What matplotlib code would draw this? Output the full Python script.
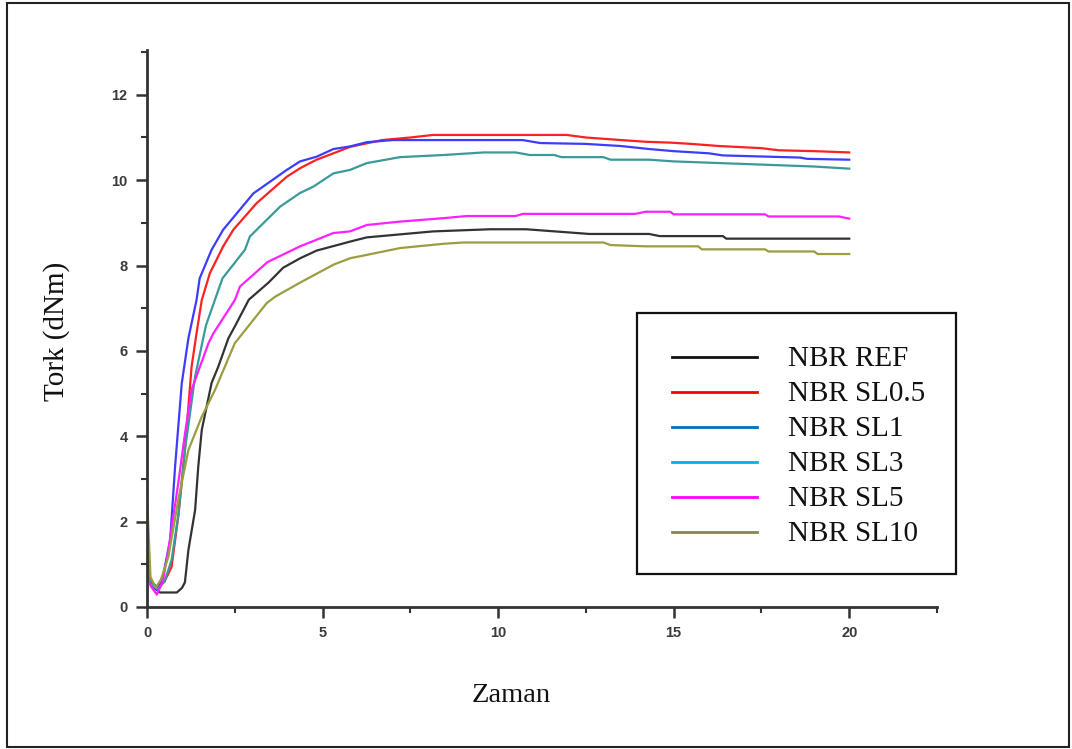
import matplotlib
matplotlib.use("Agg")
import matplotlib.pyplot as plt
from matplotlib.patches import Rectangle
from matplotlib.lines import Line2D
from matplotlib.ticker import MultipleLocator, FixedLocator

# ---------------- data ----------------
t_ref = [0, 0.08, 0.2, 0.37, 0.85, 1.0, 1.08, 1.18, 1.37, 1.46, 1.56, 1.84, 2.03, 2.32, 2.5, 2.9,
         3.46, 3.88, 4.36, 4.83, 5.78, 6.26, 8.15, 9.77, 10.8, 12.6, 14.3, 14.6, 16.4, 16.5, 20.0]
v_ref = [1.5, 0.7, 0.45, 0.34, 0.34, 0.45, 0.58, 1.34, 2.27, 3.29, 4.15, 5.25, 5.63, 6.3, 6.57, 7.2,
         7.6, 7.95, 8.17, 8.35, 8.56, 8.66, 8.8, 8.85, 8.85, 8.74, 8.74, 8.69, 8.69, 8.63, 8.63]

t_sl05 = [0, 0.1, 0.33, 0.5, 0.70, 0.89, 1.08, 1.27, 1.41, 1.56, 1.79, 2.17, 2.46, 3.12, 3.98, 4.36,
          4.83, 5.31, 5.78, 6.7, 7.5, 8.15, 11.95, 12.5, 13.5, 14.2, 14.9, 15.5, 16.3, 17.5, 18.0, 19.0, 20.0]
v_sl05 = [0.9, 0.6, 0.45, 0.6, 0.94, 2.12, 3.68, 5.63, 6.41, 7.19, 7.82, 8.45, 8.84, 9.46, 10.08, 10.28,
          10.48, 10.63, 10.78, 10.94, 11.0, 11.06, 11.06, 11.0, 10.94, 10.9, 10.88, 10.85, 10.8, 10.75, 10.7, 10.68, 10.65]

t_sl1 = [0, 0.1, 0.28, 0.45, 0.66, 0.80, 0.99, 1.18, 1.41, 1.5, 1.84, 2.17, 3.03, 3.98, 4.36, 4.83,
         5.31, 5.78, 6.26, 7.0, 10.7, 11.2, 12.5, 13.5, 14.3, 15.0, 16.0, 16.4, 18.6, 18.8, 20.0]
v_sl1 = [0.8, 0.55, 0.40, 0.7, 1.57, 3.29, 5.24, 6.3, 7.19, 7.7, 8.37, 8.84, 9.69, 10.24, 10.44, 10.55,
         10.73, 10.79, 10.89, 10.94, 10.94, 10.87, 10.85, 10.8, 10.73, 10.68, 10.63, 10.58, 10.53, 10.5, 10.48]

t_sl3 = [0, 0.1, 0.3, 0.5, 0.7, 0.9, 1.08, 1.37, 1.68, 2.15, 2.79, 2.93, 3.79, 4.36, 4.74, 5.31, 5.78,
         6.26, 7.21, 8.45, 9.6, 10.5, 10.9, 11.6, 11.8, 13.0, 13.2, 14.3, 15.0, 17.0, 19.0, 20.0]
v_sl3 = [0.85, 0.55, 0.42, 0.6, 1.1, 2.2, 3.68, 5.4, 6.6, 7.7, 8.37, 8.68, 9.38, 9.7, 9.85, 10.16, 10.24,
         10.4, 10.54, 10.59, 10.65, 10.65, 10.59, 10.59, 10.54, 10.54, 10.48, 10.48, 10.44, 10.38, 10.32, 10.27]

t_sl5 = [0, 0.1, 0.28, 0.45, 0.61, 0.89, 1.08, 1.27, 1.75, 1.89, 2.5, 2.65, 3.43, 4.36, 5.3, 5.78, 6.26,
         7.21, 8.45, 9.1, 10.5, 10.7, 13.9, 14.2, 14.9, 15.0, 17.6, 17.7, 19.7, 20.0]
v_sl5 = [0.75, 0.5, 0.29, 0.6, 1.34, 2.9, 4.05, 5.09, 6.18, 6.41, 7.19, 7.51, 8.08, 8.45, 8.76, 8.8, 8.95,
         9.03, 9.11, 9.16, 9.16, 9.21, 9.21, 9.26, 9.26, 9.2, 9.2, 9.15, 9.15, 9.1]

t_sl10 = [0, 0, 0.1, 0.25, 0.4, 0.61, 0.89, 1.18, 1.56, 1.94, 2.5, 3.41, 3.65, 4.36, 5.31, 5.78, 6.26,
          7.21, 8.45, 9.0, 13.0, 13.2, 14.2, 15.7, 15.8, 17.6, 17.7, 19.0, 19.1, 20.0]
v_sl10 = [0, 2.6, 0.7, 0.45, 0.65, 1.18, 2.51, 3.68, 4.46, 5.09, 6.18, 7.12, 7.27, 7.6, 8.02, 8.17, 8.25,
          8.41, 8.51, 8.54, 8.54, 8.48, 8.45, 8.45, 8.38, 8.38, 8.33, 8.33, 8.27, 8.27]

series_t = [t_ref, t_sl05, t_sl1, t_sl3, t_sl5, t_sl10]
series_v = [v_ref, v_sl05, v_sl1, v_sl3, v_sl5, v_sl10]
labels = ["NBR REF", "NBR SL0.5", "NBR SL1", "NBR SL3", "NBR SL5", "NBR SL10"]
line_colors = ["#333333", "#FF2020", "#3C3CFF", "#3A9A9A", "#FF20FF", "#9C9C40"]
legend_colors = ["#111111", "#FF0000", "#0070C0", "#00B0F0", "#FF00FF", "#8A8458"]

x_major = [0, 5, 10, 15, 20]
x_minor = [2.5, 7.5, 12.5, 17.5, 22.5]
y_major = [0, 2, 4, 6, 8, 10, 12]

# ---------------- figure ----------------
W, H = 1072, 749
fig = plt.figure(figsize=(W / 100, H / 100), dpi=100)
fig.patch.set_facecolor("white")

def fx(px):
    return px / W

def fy(py):
    return 1 - py / H

ax = fig.add_axes([fx(147), fy(607), (937 - 147) / W, (607 - 50) / H])

for t, v, c in zip(series_t, series_v, line_colors):
    ax.plot(t, v, color=c, lw=1.6, solid_joinstyle="round")

ax.set_xlim(0, 22.5)
ax.set_ylim(0, 13.05)

for s in ["top", "right"]:
    ax.spines[s].set_visible(False)
for s in ["left", "bottom"]:
    ax.spines[s].set_linewidth(2.0)
    ax.spines[s].set_color("#333333")

ax.xaxis.set_major_locator(FixedLocator(x_major))
ax.xaxis.set_minor_locator(FixedLocator(x_minor))
ax.yaxis.set_major_locator(FixedLocator(y_major))
ax.yaxis.set_minor_locator(MultipleLocator(1))

ax.tick_params(which="major", direction="out", length=8, width=1.8, color="#333333",
               labelsize=10.5, labelcolor="#3a3a3a", pad=6)
ax.tick_params(which="minor", direction="out", length=4.5, width=1.5, color="#333333")

ax.set_xticklabels([str(v) for v in x_major])
ax.set_yticklabels([str(v) for v in y_major])
for lab in ax.get_xticklabels() + ax.get_yticklabels():
    lab.set_fontfamily("Liberation Sans")
    lab.set_fontweight("bold")

fig.text(fx(511), fy(695), "Zaman", family="Liberation Serif", fontsize=20.5,
         ha="center", va="center", color="#111111")
fig.text(fx(57), fy(331), "Tork (dNm)", family="Liberation Serif", fontsize=21,
         ha="center", va="center", rotation=90, color="#111111")

# outer frame
fig.add_artist(Rectangle((fx(7), fy(747)), fx(1069) - fx(7), fy(3) - fy(747),
                         transform=fig.transFigure, fill=False, edgecolor="#222222", lw=1.5))

# legend box
fig.add_artist(Rectangle((fx(637), fy(574)), fx(956) - fx(637), fy(313) - fy(574),
                         transform=fig.transFigure, fill=True, facecolor="white",
                         edgecolor="#111111", lw=1.6, zorder=5))
for i, (lab, c) in enumerate(zip(labels, legend_colors)):
    yc = 357 + 35 * i
    fig.add_artist(Line2D([fx(672), fx(757)], [fy(yc), fy(yc)], transform=fig.transFigure,
                          color=c, lw=2.0, zorder=6))
    fig.text(fx(788), fy(yc + 9), lab, family="Liberation Serif", fontsize=21,
             ha="left", va="baseline", color="#111111", zorder=6)

fig.savefig("out.png", dpi=100, facecolor="white")
